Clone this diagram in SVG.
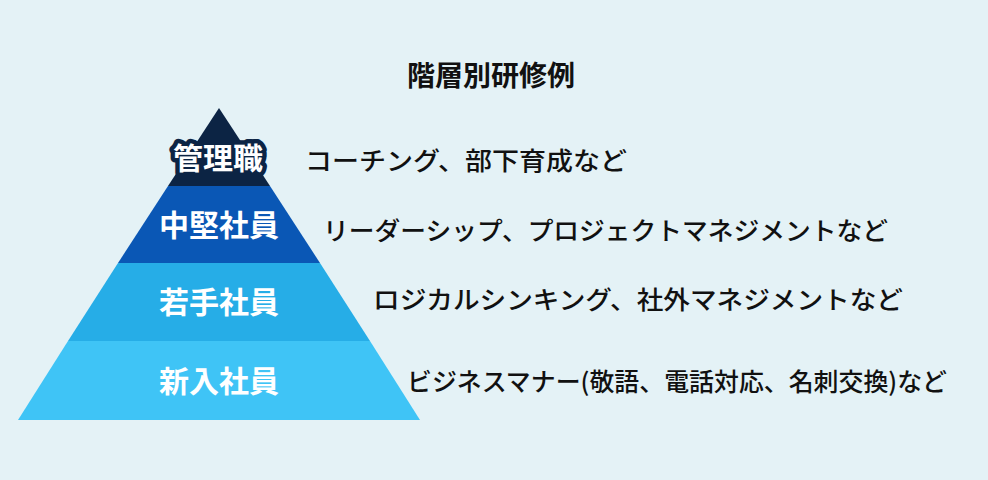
<svg xmlns="http://www.w3.org/2000/svg" width="988" height="480" viewBox="0 0 988 480">
<style>
text{font-family:"Noto Sans CJK JP","Noto Sans",sans-serif;}
.lab{font-size:30px;font-weight:bold;fill:#fff;text-anchor:middle;}
.desc{font-size:25px;font-weight:500;fill:#111;}
</style>
<rect width="988" height="480" fill="#e4f2f6"/>
<text x="491" y="86" font-size="28" font-weight="bold" fill="#111" text-anchor="middle">階層別研修例</text>
<g id="manager"><polygon points="219,108 270,186 168,186" fill="#0c2444"/>
<text class="lab" x="218" y="169" font-size="28" stroke="#0c2444" stroke-width="9" stroke-linejoin="round">管理職</text>
<text class="lab" x="218" y="169" font-size="28">管理職</text></g>
<g id="mid"><polygon points="168,186 270,186 320,263 118,263" fill="#0a57b5"/>
<text class="lab" x="219" y="236">中堅社員</text></g>
<g id="young"><polygon points="118,263 320,263 370,341 68,341" fill="#26ade7"/>
<text class="lab" x="219" y="313">若手社員</text></g>
<g id="new"><polygon points="68,341 370,341 420,420 18,420" fill="#3fc4f6"/>
<text class="lab" x="219" y="392">新入社員</text></g>
<g id="connectors"/>
<text class="desc" x="305" y="170" textLength="322" lengthAdjust="spacingAndGlyphs">コーチング、部下育成など</text>
<text class="desc" x="323" y="240" textLength="565" lengthAdjust="spacingAndGlyphs">リーダーシップ、プロジェクトマネジメントなど</text>
<text class="desc" x="373" y="309" textLength="530" lengthAdjust="spacingAndGlyphs">ロジカルシンキング、社外マネジメントなど</text>
<text class="desc" x="407" y="391" textLength="540" lengthAdjust="spacingAndGlyphs">ビジネスマナー(敬語、電話対応、名刺交換)など</text>
</svg>
